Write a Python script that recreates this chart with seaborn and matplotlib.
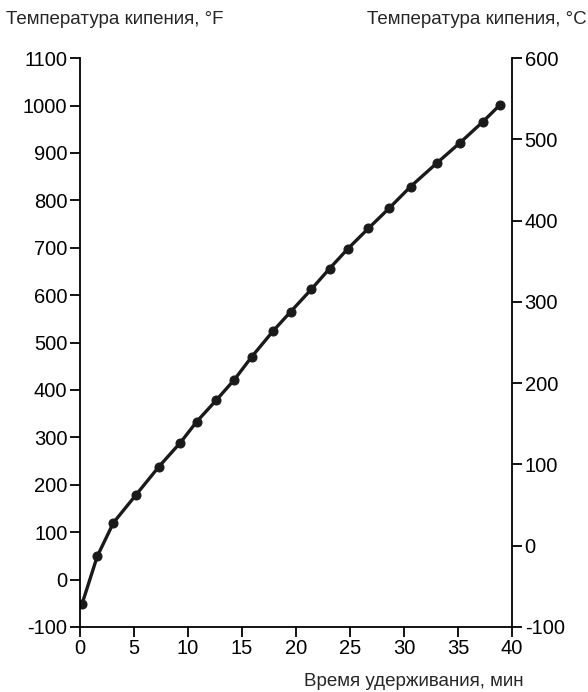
import numpy as np
import pandas as pd
import matplotlib
matplotlib.use("Agg")
import matplotlib.pyplot as plt
import seaborn as sns

# retention time, min, and boiling point, °F
time_min = [0.2, 1.6, 3.1, 5.2, 7.3, 9.3, 10.8, 12.6, 14.3, 15.9, 17.9, 19.5,
            21.4, 23.1, 24.8, 26.7, 28.6, 30.6, 33.0, 35.2, 37.3, 38.9]
temp_f = [-51, 49, 120, 179, 238, 289, 333, 378, 422, 470, 525, 565,
          612, 656, 698, 741, 783, 829, 878, 922, 966, 1002]
left_ticks = list(range(-100, 1101, 100))
right_ticks = list(range(-100, 601, 100))
x_ticks = list(range(0, 41, 5))

df = pd.DataFrame({"t": time_min, "f": temp_f})

sns.set_style("white")
plt.rcParams["font.family"] = ["Liberation Sans", "DejaVu Sans"]
plt.rcParams["axes.unicode_minus"] = False

fig = plt.figure(figsize=(5.88, 6.92), dpi=100)
ax = fig.add_axes([0.136, 0.094, 0.735, 0.822])
sns.lineplot(data=df, x="t", y="f", ax=ax, color="#1a1a1a", linewidth=2.4,
             marker="o", markersize=6.5, markeredgecolor="#1a1a1a")
ax.set_xlim(0, 40)
ax.set_ylim(-100, 1100)
ax.set_xticks(x_ticks)
ax.set_yticks(left_ticks)
ax.set_xlabel("")
ax.set_ylabel("")
for s in ["top", "right"]:
    ax.spines[s].set_visible(False)
for s in ["left", "bottom"]:
    ax.spines[s].set_color("black")
    ax.spines[s].set_linewidth(1.3)
ax.tick_params(axis="both", direction="out", length=7, width=1.3,
               labelsize=14.5, colors="black", left=True, bottom=True, pad=2)

ax2 = ax.twinx()
ax2.set_ylim(-100, 600)
ax2.set_yticks(right_ticks)
for s in ["top", "left", "bottom"]:
    ax2.spines[s].set_visible(False)
ax2.spines["right"].set_color("black")
ax2.spines["right"].set_linewidth(1.3)
ax2.tick_params(axis="y", direction="out", length=7, width=1.3,
                labelsize=14.5, colors="black", right=True, pad=2)

fig.text(0.01, 0.972, "Температура кипения, °F", fontsize=13.5, ha="left", va="center")
fig.text(0.997, 0.972, "Температура кипения, °C", fontsize=13.5, ha="right", va="center")
fig.text(0.89, 0.015, "Время удерживания, мин", fontsize=13.5, ha="right", va="center")

fig.savefig("out.png", dpi=100)
